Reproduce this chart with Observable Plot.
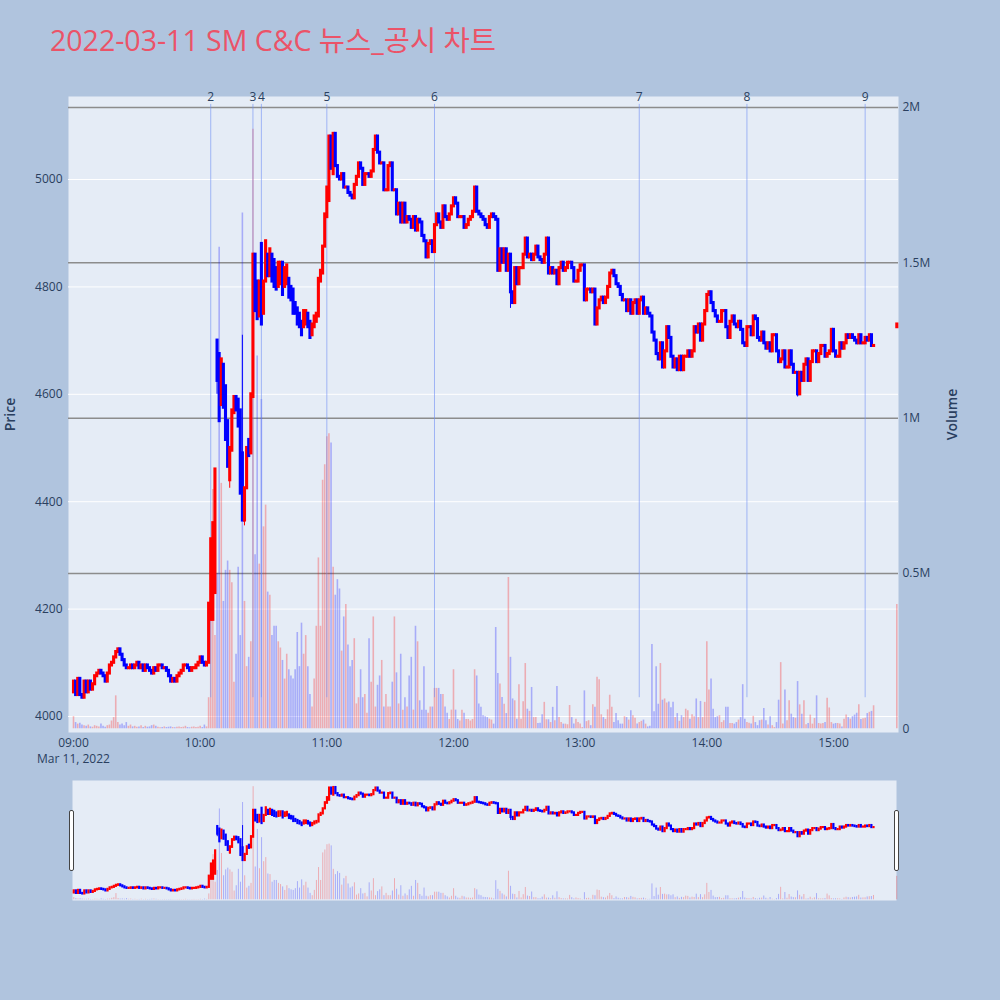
<!DOCTYPE html>
<html><head><meta charset="utf-8">
<script src="https://cdn.jsdelivr.net/npm/d3@7"></script>
<script src="https://cdn.jsdelivr.net/npm/@observablehq/plot@0.6"></script>
<style>
html,body{margin:0;padding:0;background:#B0C4DE;}
#root{position:relative;width:1000px;height:1000px;overflow:hidden;background:#B0C4DE;font-family:'Open Sans',sans-serif;}
.layer{position:absolute;left:0;}
.handle{position:absolute;width:3px;height:59px;background:#fff;border:1px solid #444;border-radius:2px;}
g[aria-label="y-axis label"]{font-size:14px;font-weight:600;}
</style></head><body>
<div id="root">
<svg class="layer" style="top:0" width="1000" height="80"><text x="50" y="51" font-size="28.5" fill="#EB5368" font-family="'Open Sans','Noto Sans CJK KR',sans-serif">2022-03-11 SM C&amp;C 뉴스_공시 차트</text></svg>
</div>
<script>
// ---------------- DATA ----------------
// one-minute closes from 09:00 (index = minutes after 09:00), through 15:19
const closes = [
 4065,4040,4070,4040,4035,4065,4045,4065,4050,4060,
 4075,4080,4085,4080,4075,4065,4080,4095,4100,4110,
 4120,4125,4115,4105,4095,4090,4090,4095,4090,4095,
 4100,4090,4095,4085,4095,4090,4085,4080,4090,4085,
 4095,4095,4090,4090,4085,4075,4065,4070,4065,4075,
 4080,4085,4095,4095,4090,4085,4090,4090,4095,4100,
 4110,4100,4095,4100,
 4210,4330,4360,4460,4625,4550,4665,4575,4515,4465,
 4500,4570,4595,4570,4540,4415,4365,4425,4500,4485,
 4600,4860,4755,4740,4810,4730,4810,4885,4820,4870,
 4810,4800,4795,4845,4845,4785,4835,4840,4780,4775,
 4750,4750,4730,4725,4710,4755,4755,4725,4705,4730,
 4745,4750,4815,4830,4875,4935,4985,5080,5020,5085,
 5025,5005,5000,5010,4985,4985,4975,4970,4965,4990,
 5005,5030,5020,4990,5010,5010,5005,5015,5055,5080,
 5050,5030,5030,4980,4980,5025,5030,4980,4980,4935,
 4955,4920,4955,4920,4930,4925,4910,4930,4905,4925,
 4920,4895,4885,4855,4880,4885,4865,4915,4935,4920,
 4910,4950,4930,4925,4935,4950,4965,4955,4930,4930,
 4930,4910,4915,4925,4930,4940,4985,4940,4935,4930,
 4925,4915,4910,4930,4935,4930,4925,4830,4870,4845,
 4870,4830,4860,4790,4770,4835,4805,4835,4835,4860,
 4890,4855,4860,4850,4860,4875,4855,4850,4845,4860,
 4890,
 4825,4835,4825,4830,4805,4835,4845,4830,4835,4845,
 4845,4835,4810,4810,4830,4840,4840,4775,4795,4795,
 4790,4795,4730,4760,4775,4780,4770,4780,4800,4825,
 4830,4820,4805,4800,4785,4775,4775,4755,4775,4750,
 4770,4775,4750,4775,
 4780,4750,4760,4750,4745,4715,4700,4675,4665,4695,
 4650,4680,4725,4705,4670,4650,4665,4645,4670,4645,
 4670,4670,4680,4670,4680,4725,4715,4730,4700,4730,
 4755,4785,4790,4770,4755,4745,4735,4735,4755,4755,
 4725,4705,4735,4745,4730,4725,4735,4720,4695,4690,
 4725,4725,4710,4745,4740,4705,4700,4715,4695,4685,
 4695,4680,4710,4710,4680,4660,4665,4680,4650,4650,
 4680,4655,4640,4640,4600,4640,4625,4655,4665,4625,
 4660,4680,4680,4660,4675,4690,4690,4670,4675,4680,
 4720,4680,4670,4670,4695,4685,4695,4710,4705,4710,
 4705,4700,4695,4710,4695,4695,4705,4700,4710,4690,
 4690
];
// one-minute volumes, thousands of shares
const volumesK = [
 39,20,15,18,12,10,8,12,6,5,
 10,8,6,15,8,5,10,12,25,36,
 106,20,12,15,10,20,8,12,6,8,
 5,6,10,4,8,5,6,10,12,8,
 5,3,4,6,4,5,6,4,3,5,
 6,4,5,8,4,3,5,6,4,5,
 8,4,12,6,
 100,400,770,300,500,1550,790,410,510,540,
 510,470,150,240,520,300,1660,410,200,230,
 280,1930,560,1200,530,1060,650,720,440,430,
 300,330,330,280,260,220,160,240,190,170,
 160,190,310,200,340,240,300,200,110,70,
 160,330,550,330,800,850,940,950,920,520,
 430,480,450,250,360,400,270,200,220,290,
 80,100,190,100,110,50,290,150,360,70,
 140,170,220,70,110,70,70,150,360,180,
 80,240,60,100,70,170,230,60,330,280,
 90,60,200,60,50,70,70,130,130,130,
 110,110,70,50,30,60,190,60,30,25,
 60,50,30,30,25,30,190,170,80,
 69,42,39,36,31,28,15,326,178,144,
 101,79,49,487,230,96,90,31,142,31,
 87,210,63,56,133,36,36,17,18,45,
 85,29,29,20,69,26,136,36,20,15,
 15,13,75,36,15,31,20,15,4,122,
 23,26,10,77,69,166,158,45,36,30,
 61,108,69,20,49,26,15,15,39,36,
 28,58,42,34,15,20,24,28,15,6,
 8,271,55,200,79,210,92,96,83,86,
 68,85,36,49,24,42,36,63,58,31,
 45,39,96,36,88,36,85,280,125,160,
 63,36,39,42,20,26,69,69,17,17,
 15,20,28,36,142,31,20,18,15,40,
 20,10,26,28,65,26,12,39,10,4,
 20,92,213,15,125,26,90,47,36,34,
 152,77,47,90,13,17,44,15,33,106,
 17,15,17,20,98,67,20,15,17,17,
 15,6,31,44,36,31,39,44,50,77,
 30,32,34,49,53,56,74
];
// opens that differ from the previous close: [minute, open]
const openOverrides = [[0,4045],[64,4100],[65,4180],[66,4180],[67,4230],[68,4700],[69,4675],[70,4580],[71,4655],[72,4615],[73,4550],[74,4440],[75,4495],[76,4565],[77,4595],[78,4590],[79,4570],[80,4490],[81,4365],[82,4425],[83,4515],[84,4490],[85,4595],[86,4860],[87,4810],[88,4745],[89,4880],[90,4750],[91,4810],[92,4860],[93,4820],[94,4860],[95,4850],[96,4835],[97,4800],[98,4805],[99,4845],[100,4800],[101,4805],[102,4815],[103,4800],[104,4795],[105,4770],[106,4760],[107,4750],[108,4735],[109,4725],[110,4730],[111,4750],[112,4735],[113,4710],[114,4725],[115,4735],[116,4745],[117,4810],[118,4825],[119,4875],[120,4930],[121,4960],[122,5080],[123,5010]];
const highWicks = [[80,4710]];
const lowWicks = [[68,4600],[74,4425],[81,4355],[207,4760],[343,4595]];
// closing auction candle at 15:30
const auctionTime = "15:30", auctionOpen = 4725, auctionClose = 4730, auctionVolumeK = 400;
// news / disclosure markers
const newsTimes = ["10:05","10:25","10:29","11:00","11:51","13:28","14:19","15:15"];
const newsLabels = ["2","3","4","5","6","7","8","9"];
const hourTicks = ["09:00","10:00","11:00","12:00","13:00","14:00","15:00"];
const priceTicks = [4000,4200,4400,4600,4800,5000];
const volumeTicks = [0,500000,1000000,1500000,2000000];

// ---------------- BUILD ----------------
const t0 = Date.UTC(2022,2,11,9,0);
const T = m => new Date(t0 + m*60000);
const hm = s => { const [h,m] = s.split(":").map(Number); return (h-9)*60+m; };
const openMap = new Map(openOverrides);
const rows = closes.map((c,i) => ({
  t: T(i), close: c,
  open: openMap.has(i) ? openMap.get(i) : (i ? closes[i-1] : c),
  vol: volumesK[i]*1000
}));
rows.push({t: T(hm(auctionTime)), open: auctionOpen, close: auctionClose, vol: auctionVolumeK*1000});
rows.forEach(r => { r.high = Math.max(r.open,r.close); r.low = Math.min(r.open,r.close); r.up = r.close >= r.open; r.col = r.up ? "#ff0000" : "#0000ff"; });
highWicks.forEach(([m,v]) => rows[m].high = Math.max(rows[m].high, v));
lowWicks.forEach(([m,v]) => rows[m].low = Math.min(rows[m].low, v));
const news = newsTimes.map((s,i) => ({t: T(hm(s)), label: newsLabels[i]}));
const hourDates = hourTicks.map(s => T(hm(s)));

const root = document.getElementById("root");
const FONT = "'Open Sans', sans-serif";
const baseStyle = {background:"transparent", fontFamily:FONT, fontSize:"12px", color:"#2a3f5f", overflow:"visible"};
const main = {width:1000, height:780, marginTop:96, marginBottom:48, marginLeft:68, marginRight:102, style:baseStyle};
const xMain = {type:"utc", domain:[T(-2.37), T(390.8)], axis:null};
const yPrice = {domain:[3970.2, 5154.6], axis:null};
const yVol = {domain:[-12000, 2035400], axis:null};

function add(svg, top){ svg.classList.add("layer"); svg.style.top = top+"px"; svg.style.position="absolute"; root.appendChild(svg); }

// layer A: background + price grid
add(Plot.plot({...main, x:xMain, y:yPrice, marks:[
  Plot.frame({fill:"#E5ECF6", stroke:null}),
  Plot.gridY(priceTicks, {stroke:"#ffffff", strokeOpacity:1, strokeWidth:1})
]}), 0);

// layer B: volume
add(Plot.plot({...main, x:xMain, y:yVol, color:{type:"identity"}, marks:[
  Plot.gridY(volumeTicks.filter(v => v > 0), {stroke:"#8c8c8c", strokeOpacity:1, strokeWidth:1.5}),
  Plot.ruleX(rows, {x:"t", y1:0, y2:"vol", stroke:"col", strokeOpacity:0.27, strokeWidth:1.6}),
  Plot.ruleX(news, {x:"t", y1:100000, y2:2010000, stroke:"#6f8ff5", strokeOpacity:0.6, strokeWidth:1}),
  Plot.text(news, {x:"t", text:"label", frameAnchor:"top", dy:1, lineAnchor:"middle", fill:"#2a3f5f", fontSize:12}),
  Plot.axisY(volumeTicks, {anchor:"right", tickSize:0, tickPadding:4, tickFormat: d => d === 0 ? "0" : (d/1e6) + "M",
    label:"Volume", labelAnchor:"center", labelOffset:58, labelArrow:"none"})
]}), 0);

// layer C: candles + axes
add(Plot.plot({...main, x:xMain, y:yPrice, color:{type:"identity"}, marks:[
  Plot.ruleX(rows, {x:"t", y1:"low", y2:"high", stroke:"col", strokeWidth:1}),
  Plot.ruleX(rows, {x:"t", y1:"open", y2:"close", stroke:"col", strokeWidth:3.1, strokeLinecap:"square"}),
  Plot.axisX(hourDates, {tickSize:0, tickPadding:3, lineHeight:1.35, label:null,
    tickFormat: (d,i) => i === 0 ? d3.utcFormat("%H:%M")(d) + "\n" + d3.utcFormat("%b %-d, %Y")(d) : d3.utcFormat("%H:%M")(d)}),
  Plot.axisY(priceTicks, {anchor:"left", tickSize:0, tickPadding:6, tickFormat: d => String(d),
    label:"Price", labelAnchor:"center", labelOffset:63, labelArrow:"none"})
]}), 0);

// range slider
const slider = {width:1000, height:120, marginTop:0, marginBottom:0, marginLeft:72, marginRight:104, style:baseStyle};
const xSlider = {type:"utc", domain:[T(-0.6), T(389.9)], axis:null};
add(Plot.plot({...slider, x:xSlider, y:yVol, color:{type:"identity"}, marks:[
  Plot.frame({fill:"#E5ECF6", stroke:null}),
  Plot.ruleX(rows, {x:"t", y1:0, y2:"vol", stroke:"col", strokeOpacity:0.27, strokeWidth:1})
]}), 780);
add(Plot.plot({...slider, x:xSlider, y:yPrice, color:{type:"identity"}, marks:[
  Plot.ruleX(rows, {x:"t", y1:"low", y2:"high", stroke:"col", strokeWidth:1}),
  Plot.ruleX(rows, {x:"t", y1:"open", y2:"close", stroke:"col", strokeWidth:2.2, strokeLinecap:"square"})
]}), 780);
// slider handles
[69, 894].forEach(x => { const h = document.createElement("div"); h.className = "handle"; h.style.left = x+"px"; h.style.top = "810px"; root.appendChild(h); });
</script>
</body></html>
